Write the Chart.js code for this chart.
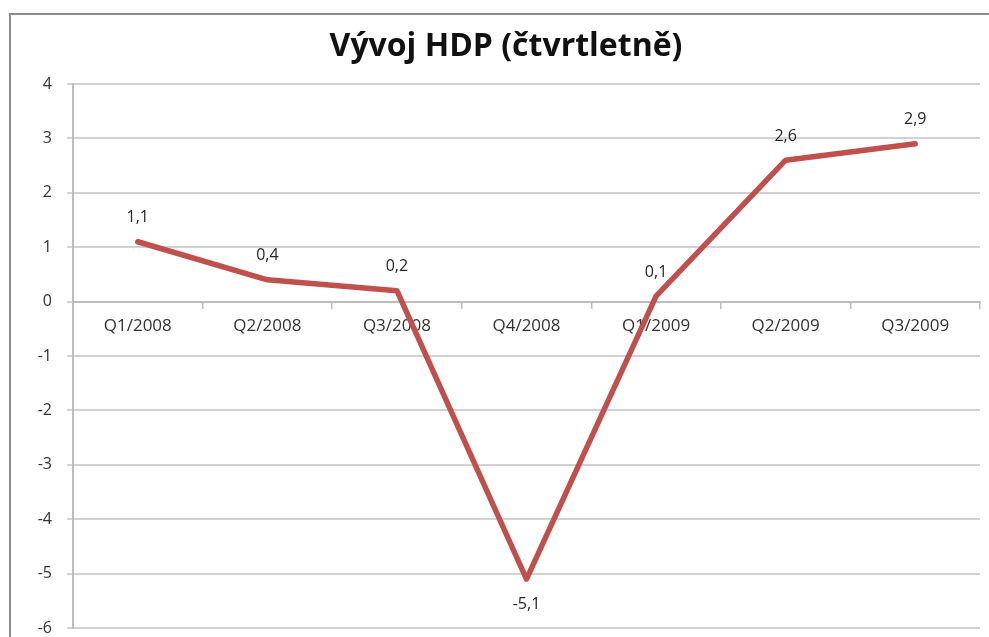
<!DOCTYPE html>
<html>
<head>
<meta charset="utf-8">
<script src="https://cdn.jsdelivr.net/npm/chart.js@4"></script>
<style>
  html, body { margin: 0; padding: 0; background: #fff; }
  #wrap { width: 989px; height: 637px; }
</style>
</head>
<body>
<div id="wrap"><canvas id="hdp-chart"></canvas></div>
<script>
const quarters = ['Q1/2008', 'Q2/2008', 'Q3/2008', 'Q4/2008', 'Q1/2009', 'Q2/2009', 'Q3/2009'];
const hdpValues = [1.1, 0.4, 0.2, -5.1, 0.1, 2.6, 2.9];
const yTicks = [4, 3, 2, 1, 0, -1, -2, -3, -4, -5, -6];

const FONT = "'Open Sans', 'DejaVu Sans', sans-serif";

// gray frame like the excel chart object
const framePlugin = {
  id: 'frame',
  beforeDraw: (chart) => {
    const c = chart.ctx;
    c.save();
    c.fillStyle = '#fff';
    c.fillRect(0, 0, chart.width, chart.height);
    c.strokeStyle = '#8c8c8c';
    c.lineWidth = 2;
    c.beginPath();
    c.moveTo(chart.width, 14);
    c.lineTo(10, 14);
    c.lineTo(10, chart.height);
    c.stroke();
    c.restore();
  },
};

// value labels, above the point (below for negative dip)
const valueLabels = {
  id: 'valueLabels',
  afterDatasetsDraw: (chart) => {
    const c = chart.ctx;
    const meta = chart.getDatasetMeta(0);
    c.save();
    c.font = '16px ' + FONT;
    c.fillStyle = '#262626';
    c.textAlign = 'center';
    c.textBaseline = 'middle';
    meta.data.forEach((pt, i) => {
      const v = hdpValues[i];
      const txt = v.toString().replace('.', ',');
      const dy = v < -1 ? 25 : -24;
      c.fillText(txt, pt.x, pt.y + dy);
    });
    c.restore();
  },
};

new Chart(document.getElementById('hdp-chart'), {
  type: 'line',
  data: {
    labels: quarters,
    datasets: [
      {
        label: 'HDP',
        data: hdpValues,
        borderColor: '#C0504D',
        backgroundColor: '#C0504D',
        borderWidth: 5.5,
        borderJoinStyle: 'round',
        borderCapStyle: 'round',
        pointRadius: 0,
        tension: 0,
      },
    ],
  },
  options: {
    responsive: true,
    maintainAspectRatio: false,
    animation: false,
    // left padding only shifts the title; y axis width makes up the rest
    layout: { padding: { left: 32, right: 9, top: 0, bottom: 9 } },
    scales: {
      x: {
        type: 'category',
        position: { y: 0 },
        offset: true,
        afterFit: (scale) => {
          // axis sits on zero, takes no layout room
          scale.height = 0;
        },
        grid: {
          offset: true,
          drawOnChartArea: false,
          drawTicks: true,
          tickLength: 6,
          color: '#bdbdbd',
          lineWidth: 1.5,
        },
        border: { color: '#bdbdbd', width: 2 },
        ticks: {
          color: '#333',
          font: { family: FONT, size: 17 },
          padding: 8,
          maxRotation: 0,
          autoSkip: false,
        },
      },
      y: {
        min: -6,
        max: 4,
        afterFit: (scale) => {
          scale.width = 41;
          scale.paddingTop = 0;
          scale.paddingBottom = 0;
        },
        afterBuildTicks: (scale) => {
          scale.ticks = yTicks.map((v) => ({ value: v }));
        },
        grid: {
          color: '#d2d2d2',
          lineWidth: 2,
          tickLength: 6,
        },
        border: { color: '#bdbdbd', width: 2 },
        ticks: {
          color: '#333',
          font: { family: FONT, size: 16 },
          padding: 15,
        },
      },
    },
    plugins: {
      legend: { display: false },
      tooltip: { enabled: false },
      title: {
        display: true,
        text: 'Vývoj HDP (čtvrtletně)',
        color: '#111',
        font: { family: FONT, size: 32, weight: 'bold', lineHeight: 1.2 },
        padding: { top: 28, bottom: 17.6 },
      },
    },
  },
  plugins: [framePlugin, valueLabels],
});
</script>
</body>
</html>
